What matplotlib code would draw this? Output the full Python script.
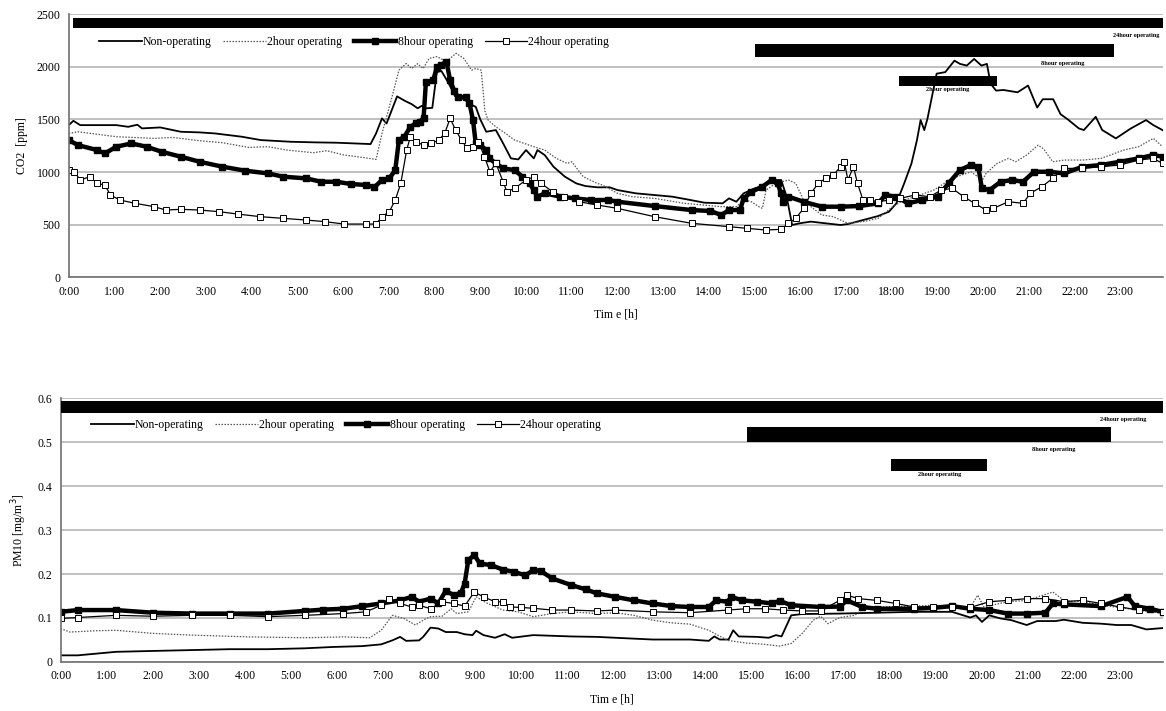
import matplotlib
matplotlib.use("Agg")
from matplotlib import pyplot as plt

plt.rcParams['font.family'] = ['Liberation Serif', 'DejaVu Serif']

# ---- data: (hour, value) ----
co2_nonop = [(0, 1446), (0.1, 1487), (0.25, 1446), (1.04, 1446), (1.3, 1430), (1.5, 1450), (1.6, 1415),
             (2.0, 1424), (2.45, 1383), (2.86, 1377), (3.2, 1367), (3.78, 1336), (4.2, 1304), (4.85, 1288),
             (5.4, 1282), (5.85, 1279), (6.6, 1266), (6.72, 1367), (6.85, 1510), (6.95, 1462), (7.18, 1719),
             (7.35, 1677), (7.5, 1645), (7.63, 1606), (7.72, 1629), (7.81, 1606), (7.95, 1610), (8.05, 1950),
             (8.15, 1960), (8.3, 1850), (8.45, 1720), (8.6, 1720), (8.75, 1650), (8.9, 1620), (9.0, 1500),
             (9.13, 1383), (9.34, 1399), (9.5, 1272), (9.67, 1130), (9.83, 1120), (10.0, 1209), (10.17, 1130),
             (10.25, 1209), (10.41, 1161), (10.6, 1051), (10.85, 956), (11.1, 892), (11.3, 867), (11.56, 855),
             (11.83, 855), (12.0, 829), (12.4, 798), (12.8, 782), (13.2, 766), (13.6, 734), (13.9, 709),
             (14.3, 703), (14.44, 750), (14.6, 718), (14.76, 798), (15.0, 845), (15.25, 877), (15.42, 924),
             (15.58, 924), (15.7, 766), (15.82, 497), (15.98, 513), (16.23, 529), (16.55, 513), (16.88, 497),
             (17.04, 506), (17.37, 544), (17.7, 582), (17.94, 624), (18.1, 703), (18.27, 892), (18.43, 1082),
             (18.55, 1304), (18.63, 1494), (18.71, 1399), (18.78, 1508), (18.98, 1935), (19.17, 1950),
             (19.37, 2059), (19.49, 2028), (19.64, 2012), (19.8, 2075), (19.96, 2012), (20.08, 2028),
             (20.16, 1840), (20.28, 1774), (20.44, 1780), (20.75, 1758), (20.98, 1822), (21.18, 1613),
             (21.3, 1692), (21.53, 1692), (21.69, 1550), (21.85, 1500), (22.09, 1415), (22.2, 1399),
             (22.46, 1525), (22.6, 1400), (22.9, 1320), (23.23, 1415), (23.56, 1494), (23.72, 1446), (23.92, 1399)]

co2_2h = [(0, 1367), (0.2, 1383), (1.04, 1336), (1.87, 1320), (2.28, 1329), (2.86, 1298), (3.36, 1279),
          (3.94, 1234), (4.36, 1241), (4.77, 1209), (5.35, 1184), (5.64, 1203), (6.02, 1162), (6.43, 1139),
          (6.72, 1120), (6.85, 1367), (6.97, 1557), (7.06, 1700), (7.22, 1968), (7.38, 2032), (7.5, 1984),
          (7.63, 2030), (7.75, 1984), (7.88, 2080), (8.05, 2097), (8.26, 2050), (8.47, 2129), (8.64, 2080),
          (8.81, 1968), (8.9, 1984), (9.02, 1968), (9.1, 1581), (9.17, 1494), (9.34, 1430), (9.5, 1383),
          (9.75, 1304), (10.17, 1241), (10.41, 1209), (10.66, 1130), (10.9, 1082), (11.0, 1098), (11.25, 956),
          (11.56, 892), (11.67, 877), (12.0, 798), (12.32, 766), (12.81, 750), (13.46, 703), (13.87, 687),
          (14.27, 671), (14.6, 671), (14.76, 734), (14.93, 718), (15.09, 671), (15.17, 655), (15.25, 829),
          (15.46, 892), (15.74, 924), (15.9, 892), (16.07, 734), (16.23, 671), (16.47, 592), (16.72, 576),
          (17.04, 513), (17.37, 529), (17.7, 560), (18.02, 671), (18.27, 734), (18.51, 766), (18.92, 829),
          (19.32, 940), (19.73, 1003), (19.98, 924), (20.06, 987), (20.3, 1082), (20.55, 1130), (20.71, 1098),
          (20.95, 1162), (21.2, 1256), (21.32, 1220), (21.52, 1098), (21.77, 1114), (22.17, 1114),
          (22.58, 1130), (23.07, 1209), (23.4, 1241), (23.72, 1320), (23.92, 1241)]

co2_8h = [(0, 1304), (0.2, 1256), (0.62, 1209), (0.79, 1177), (1.04, 1241), (1.37, 1272), (1.7, 1241),
          (2.03, 1193), (2.45, 1146), (2.86, 1098), (3.36, 1051), (3.86, 1013), (4.36, 987), (4.69, 956),
          (5.19, 940), (5.52, 908), (5.85, 908), (6.18, 886), (6.51, 877), (6.68, 855), (6.85, 924),
          (7.01, 940), (7.14, 1019), (7.22, 1304), (7.34, 1336), (7.47, 1430), (7.59, 1462), (7.68, 1478),
          (7.76, 1516), (7.81, 1855), (7.97, 1871), (8.05, 2000), (8.13, 2016), (8.26, 2048), (8.34, 1871),
          (8.43, 1774), (8.51, 1710), (8.68, 1710), (8.76, 1661), (8.84, 1494), (8.9, 1272), (9.0, 1256),
          (9.13, 1209), (9.2, 1130), (9.34, 1082), (9.5, 1035), (9.75, 1019), (9.92, 956), (10.08, 892),
          (10.17, 829), (10.25, 766), (10.41, 798), (10.75, 766), (11.08, 750), (11.41, 734), (11.8, 735),
          (12.0, 718), (12.81, 677), (13.62, 639), (14.03, 630), (14.27, 592), (14.44, 639), (14.68, 639),
          (14.76, 750), (14.93, 813), (15.17, 861), (15.37, 924), (15.5, 892), (15.58, 798), (15.62, 718),
          (15.74, 766), (16.07, 718), (16.47, 671), (16.88, 671), (17.29, 677), (17.7, 703), (17.86, 782),
          (18.1, 766), (18.35, 703), (18.67, 734), (19.0, 766), (19.24, 892), (19.49, 1019), (19.73, 1067),
          (19.89, 1051), (19.97, 845), (20.14, 829), (20.38, 908), (20.63, 924), (20.87, 908), (21.11, 1003),
          (21.44, 1003), (21.77, 987), (22.17, 1051), (22.58, 1067), (22.99, 1098), (23.4, 1130),
          (23.72, 1162), (23.92, 1146)]

co2_24h = [(0, 1019), (0.12, 1003), (0.25, 924), (0.46, 956), (0.62, 892), (0.79, 877), (0.91, 782),
           (1.12, 734), (1.45, 703), (1.87, 671), (2.12, 639), (2.45, 646), (2.86, 639), (3.28, 624),
           (3.69, 601), (4.19, 576), (4.69, 560), (5.19, 544), (5.6, 529), (6.02, 506), (6.51, 506),
           (6.72, 506), (6.85, 576), (7.01, 624), (7.14, 734), (7.26, 892), (7.39, 1209), (7.47, 1336),
           (7.59, 1288), (7.76, 1256), (7.93, 1272), (8.09, 1304), (8.22, 1367), (8.34, 1510), (8.46, 1399),
           (8.59, 1304), (8.71, 1225), (8.84, 1241), (8.96, 1288), (9.09, 1146), (9.21, 1003), (9.34, 1082),
           (9.5, 908), (9.58, 813), (9.75, 845), (10.0, 924), (10.17, 956), (10.33, 892), (10.58, 813),
           (10.83, 766), (11.16, 718), (11.56, 687), (12.0, 655), (12.81, 576), (13.62, 513), (14.44, 481),
           (14.84, 465), (15.25, 449), (15.58, 456), (15.74, 513), (15.9, 560), (16.07, 655), (16.23, 798),
           (16.39, 892), (16.55, 940), (16.72, 972), (16.88, 1051), (16.96, 1098), (17.04, 924), (17.16, 1051),
           (17.25, 892), (17.37, 734), (17.53, 734), (17.7, 718), (17.94, 734), (18.18, 750), (18.51, 782),
           (18.83, 766), (19.08, 829), (19.32, 845), (19.57, 766), (19.81, 703), (20.06, 639), (20.22, 655),
           (20.55, 718), (20.87, 703), (21.03, 798), (21.28, 861), (21.52, 940), (21.77, 1035), (22.17, 1035),
           (22.58, 1051), (22.99, 1067), (23.4, 1114), (23.72, 1130), (23.92, 1082)]

pm_nonop = [(0, 0.015), (0.37, 0.015), (1.2, 0.023), (2.0, 0.025), (2.85, 0.027), (3.67, 0.029), (4.5, 0.029),
            (5.3, 0.031), (5.9, 0.034), (6.55, 0.036), (6.96, 0.040), (7.2, 0.049), (7.37, 0.057), (7.5, 0.048),
            (7.78, 0.049), (7.87, 0.057), (8.03, 0.078), (8.2, 0.076), (8.36, 0.068), (8.6, 0.068), (8.77, 0.063),
            (8.94, 0.061), (9.02, 0.071), (9.18, 0.061), (9.43, 0.055), (9.64, 0.063), (9.8, 0.055),
            (10.26, 0.061), (11.08, 0.058), (11.64, 0.057), (12.04, 0.055), (12.85, 0.051), (13.66, 0.051),
            (14.07, 0.048), (14.19, 0.058), (14.31, 0.051), (14.5, 0.051), (14.6, 0.072), (14.72, 0.058),
            (15.12, 0.057), (15.37, 0.055), (15.53, 0.061), (15.65, 0.058), (15.86, 0.106), (16.1, 0.109),
            (16.9, 0.110), (17.72, 0.112), (18.53, 0.114), (19.35, 0.114), (19.75, 0.101), (19.87, 0.106),
            (20.0, 0.091), (20.16, 0.106), (20.4, 0.099), (20.64, 0.095), (20.97, 0.084), (21.2, 0.093),
            (21.6, 0.093), (21.78, 0.096), (22.19, 0.089), (22.59, 0.087), (22.92, 0.084), (23.24, 0.084),
            (23.57, 0.074), (23.92, 0.077)]

pm_2h = [(0, 0.076), (0.2, 0.068), (0.78, 0.071), (1.2, 0.072), (2.0, 0.065), (2.85, 0.061), (4.08, 0.057),
         (5.3, 0.055), (6.14, 0.057), (6.71, 0.055), (6.96, 0.072), (7.2, 0.106), (7.45, 0.099), (7.7, 0.084),
         (7.87, 0.095), (8.03, 0.103), (8.28, 0.104), (8.48, 0.121), (8.6, 0.110), (8.85, 0.114), (9.02, 0.148),
         (9.27, 0.133), (9.6, 0.118), (9.93, 0.114), (10.26, 0.103), (10.67, 0.110), (11.08, 0.114),
         (11.64, 0.110), (12.04, 0.112), (12.45, 0.106), (12.85, 0.095), (13.26, 0.089), (13.66, 0.086),
         (14.07, 0.072), (14.48, 0.049), (14.88, 0.043), (15.29, 0.040), (15.61, 0.036), (15.86, 0.042),
         (16.1, 0.065), (16.34, 0.095), (16.5, 0.104), (16.66, 0.087), (16.91, 0.101), (17.24, 0.106),
         (17.4, 0.121), (17.72, 0.125), (18.53, 0.127), (18.94, 0.129), (19.35, 0.127), (19.75, 0.125),
         (19.91, 0.152), (20.04, 0.125), (20.56, 0.137), (20.97, 0.140), (21.54, 0.159), (21.78, 0.140),
         (22.19, 0.137), (22.59, 0.129), (23.4, 0.118), (23.92, 0.110)]

pm_8h = [(0, 0.114), (0.37, 0.118), (1.2, 0.118), (2.0, 0.112), (2.85, 0.110), (3.67, 0.110), (4.5, 0.110),
         (5.3, 0.116), (5.7, 0.119), (6.14, 0.121), (6.55, 0.127), (6.96, 0.133), (7.37, 0.140), (7.62, 0.148),
         (7.78, 0.137), (8.03, 0.144), (8.2, 0.133), (8.36, 0.162), (8.53, 0.152), (8.69, 0.157), (8.77, 0.178),
         (8.85, 0.232), (8.98, 0.243), (9.1, 0.224), (9.35, 0.220), (9.6, 0.210), (9.84, 0.205), (10.09, 0.197),
         (10.26, 0.209), (10.42, 0.207), (10.67, 0.190), (11.08, 0.175), (11.4, 0.165), (11.64, 0.156),
         (12.04, 0.148), (12.45, 0.140), (12.85, 0.133), (13.26, 0.127), (13.66, 0.125), (14.07, 0.125),
         (14.23, 0.140), (14.48, 0.137), (14.56, 0.148), (14.8, 0.140), (15.12, 0.137), (15.45, 0.133),
         (15.61, 0.139), (15.86, 0.129), (16.5, 0.125), (16.91, 0.126), (17.07, 0.140), (17.4, 0.125),
         (17.72, 0.121), (18.53, 0.121), (18.94, 0.123), (19.35, 0.127), (19.75, 0.121), (20.16, 0.118),
         (20.56, 0.110), (20.97, 0.110), (21.38, 0.112), (21.54, 0.133), (21.78, 0.131), (22.59, 0.127),
         (23.16, 0.148), (23.32, 0.127), (23.65, 0.121), (23.92, 0.114)]

pm_24h = [(0, 0.099), (0.37, 0.101), (1.2, 0.106), (2.0, 0.104), (2.85, 0.106), (3.67, 0.106), (4.5, 0.103),
          (5.3, 0.106), (6.14, 0.110), (6.63, 0.114), (6.96, 0.129), (7.12, 0.144), (7.37, 0.133), (7.62, 0.125),
          (7.78, 0.129), (8.03, 0.121), (8.28, 0.137), (8.53, 0.133), (8.77, 0.127), (8.98, 0.159), (9.18, 0.148),
          (9.43, 0.137), (9.6, 0.137), (9.76, 0.125), (10.0, 0.124), (10.26, 0.122), (10.67, 0.118),
          (11.08, 0.118), (11.64, 0.116), (12.04, 0.118), (12.85, 0.114), (13.66, 0.112), (14.48, 0.118),
          (14.88, 0.121), (15.29, 0.121), (15.69, 0.118), (16.1, 0.116), (16.5, 0.116), (16.91, 0.140),
          (17.07, 0.152), (17.32, 0.144), (17.72, 0.140), (18.13, 0.133), (18.53, 0.125), (18.94, 0.124),
          (19.35, 0.125), (19.75, 0.124), (20.16, 0.137), (20.56, 0.140), (20.97, 0.144), (21.38, 0.144),
          (21.78, 0.137), (22.19, 0.140), (22.59, 0.133), (23.0, 0.125), (23.4, 0.118), (23.92, 0.114)]

series_names = ['Non-operating', '2hour operating', '8hour operating', '24hour operating']

# operating periods (start hour, end hour) shown as black bars
op_labels = ['24hour operating', '8hour operating', '2hour operating']
co2_periods = [(0.1, 24.0), (15.0, 22.87), (18.16, 20.3)]
pm_periods = [(0.0, 24.0), (14.9, 22.8), (18.03, 20.1)]

hours = list(range(24))
hour_labels = ['%d:00' % h for h in hours]


def draw(ax, data, periods, bar_y, bar_h, lab_xy, lab_ha, ylim, yticks, ylabel):
    styles = [dict(color='black', lw=1.3),
              dict(color='#555555', lw=0.9, ls=(0, (1.2, 1.2))),
              dict(color='black', lw=3.2, marker='s', ms=5, mfc='black', mec='black'),
              dict(color='black', lw=0.9, marker='s', ms=4.5, mfc='white', mec='black', mew=0.7)]
    for d, name, st in zip(data, series_names, styles):
        t, v = zip(*d)
        ax.plot(t, v, label=name, **st)

    for (a, b), y, h, (lx, ly), ha, lab in zip(periods, bar_y, bar_h, lab_xy, lab_ha, op_labels):
        ax.barh(y, b - a, left=a, height=h, color='black', zorder=5)
        ax.text(lx, ly, lab, fontsize=4.5, fontweight='bold', ha=ha, va='center', zorder=6)

    ax.set_xlim(0, 23.92)
    ax.set_ylim(*ylim)
    ax.set_yticks(yticks)
    ax.set_xticks(hours)
    ax.set_xticklabels(hour_labels)
    ax.tick_params(length=0, labelsize=8.5, pad=6)
    ax.grid(axis='y', color='#c0c0c0', lw=1.4)
    ax.set_axisbelow(True)
    for s in ['top', 'right']:
        ax.spines[s].set_visible(False)
    for s in ['left', 'bottom']:
        ax.spines[s].set_color('#707070')
        ax.spines[s].set_linewidth(1.2)
    ax.set_xlabel('Tim e [h]', fontsize=8.5, labelpad=8)
    ax.set_ylabel(ylabel, fontsize=8.5, labelpad=6)


fig = plt.figure(figsize=(11.66, 7.11), dpi=100)
ax1 = fig.add_axes([0.059, 0.610, 0.938, 0.370])
ax2 = fig.add_axes([0.052, 0.069, 0.945, 0.371])

draw(ax1, [co2_nonop, co2_2h, co2_8h, co2_24h], co2_periods,
     [2418, 2157, 1868], [95, 127, 92],
     [(23.85, 2296), (21.74, 2030), (19.23, 1784)], ['right', 'center', 'center'],
     (0, 2500), [0, 500, 1000, 1500, 2000, 2500], 'CO2  [ppm]')

draw(ax2, [pm_nonop, pm_2h, pm_8h, pm_24h], pm_periods,
     [0.58, 0.517, 0.4475], [0.029, 0.034, 0.027],
     [(23.06, 0.552), (21.56, 0.484), (19.08, 0.427)], ['center', 'center', 'center'],
     (0, 0.6), [0, 0.1, 0.2, 0.3, 0.4, 0.5, 0.6], 'PM10 [mg/m$^3$]')
ax2.set_yticklabels(['0', '0.1', '0.2', '0.3', '0.4', '0.5', '0.6'])

for ax, y in [(ax1, 0.894), (ax2, 0.898)]:
    ax.legend(loc='center left', bbox_to_anchor=(0.018, y), ncol=4, frameon=False,
              fontsize=8.5, handlelength=3.6, columnspacing=1.0, handletextpad=0.1)

fig.savefig('out.png', dpi=100)
